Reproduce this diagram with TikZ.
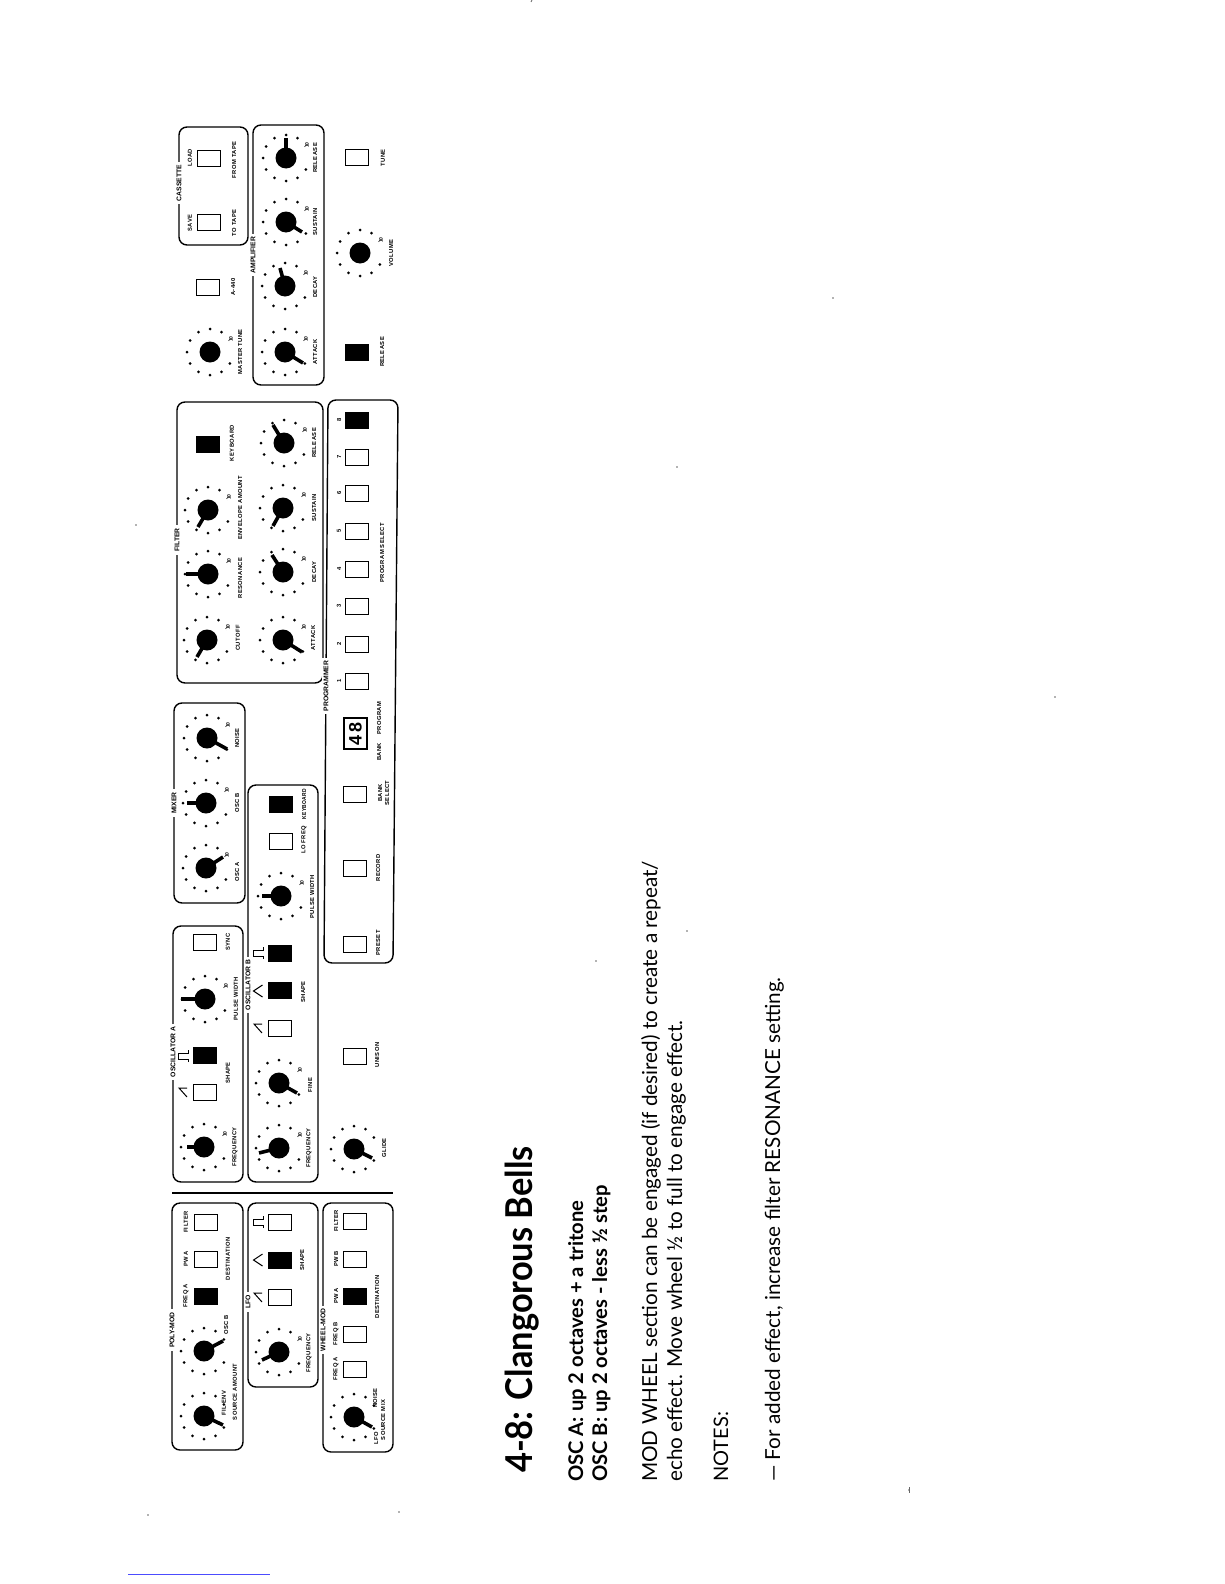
\documentclass[tikz,border=0pt]{standalone}
\usepackage{fontspec}
\setmainfont{Lato}
\newfontfamily\labelfont{Liberation Sans}[LetterSpace=7]
\newfontfamily\titlefont{Liberation Sans}
\newcount\nid \nid=0
\tikzset{
 panel/.style={draw=black,line width=1.4pt,rounded corners=8pt},
 tinylabel/.style={rotate=90,inner sep=0pt,font=\labelfont\bfseries\fontsize{5.8}{6}\selectfont},
 tenlabel/.style={rotate=90,fill=white,inner sep=0.4pt,font=\titlefont\bfseries\fontsize{5}{5}\selectfont},
 titlelabel/.style={rotate=90,fill=white,inner xsep=3pt,inner ysep=2pt,font=\titlefont\bfseries\fontsize{6.8}{7}\selectfont},
 knobbody/.style={circle,fill=black,inner sep=0pt,minimum size=21pt},
 ptr/.style={line width=3.6pt,line cap=butt},
 swoff/.style={draw=black,fill=white,line width=1pt,inner sep=0pt,minimum width=22.5pt,minimum height=16pt},
 swon/.style={draw=black,fill=black,line width=1pt,inner sep=0pt,minimum width=22.5pt,minimum height=16pt},
 wavesym/.style={line width=1pt,line join=miter},
 bodytext/.style={rotate=90,anchor=base west,inner sep=0pt},
}
\newcommand\lab[3]{\global\advance\nid by 1 \node[tinylabel] (n\the\nid) at (#1,#2) {#3};}
\newcommand\ten[2]{\global\advance\nid by 1 \node[tenlabel] (n\the\nid) at (#1+21,#2-13) {10};}
\newcommand\ttl[3]{\global\advance\nid by 1 \node[titlelabel] (n\the\nid) at (#1,#2) {#3};}
\newcommand\swo[2]{\global\advance\nid by 1 \node[swoff] (n\the\nid) at (#1,#2) {};}
\newcommand\swf[2]{\global\advance\nid by 1 \node[swon] (n\the\nid) at (#1,#2) {};}
\newcommand\dials[2]{\begin{scope}[shift={(#1,#2)}]
  \foreach \a in {30,60,...,330} \fill (\a:23) circle (1.5);
  \end{scope}}
% knob without the printed 10
\newcommand\knobn[4]{\dials{#1}{#2}\global\advance\nid by 1
  \node[knobbody] (n\the\nid) at (#1,#2) {};
  \coordinate (c\the\nid) at (#3,#4);
  \draw[ptr] (n\the\nid.center) -- (c\the\nid);}
% knob x y tipx tipy
\newcommand\knob[4]{\knobn{#1}{#2}{#3}{#4}\ten{#1}{#2}}
\newcommand\knobb[2]{\dials{#1}{#2}\global\advance\nid by 1
  \node[knobbody] (n\the\nid) at (#1,#2) {};\ten{#1}{#2}}
\newcommand\sawsym[2]{\draw[wavesym] (#1+4,#2+5) -- (#1-4,#2-4) -- (#1+4,#2-4);}
\newcommand\trisym[2]{\draw[wavesym] (#1+4.5,#2+6) -- (#1-4.5,#2) -- (#1+4.5,#2-6);}
\newcommand\pulsym[2]{\draw[wavesym] (#1+5,#2+6) -- (#1+5,#2+3) -- (#1-5,#2+3) -- (#1-5,#2-3) -- (#1+5,#2-3) -- (#1+5,#2-6);}
\begin{document}
\begin{tikzpicture}[x=1pt,y=-1pt]
\useasboundingbox (0,0) rectangle (1224,1584);
\fill[white] (0,0) rectangle (1224,1584);
% panels
\draw[panel] (172,1203) rectangle (243,1450);
\draw[panel] (248,1203) rectangle (318,1387);
\draw[panel] (323,1203) rectangle (393,1452);
\draw[line width=1.4pt] (172,1193) -- (393,1193);
\draw[panel] (173,926) rectangle (243,1182);
\draw[panel] (248,785) rectangle (318,1182);
\draw[panel] (328,400) -- (398,400) -- (393,963) -- (324,963) -- cycle;
\draw[panel] (174,703) rectangle (245,903);
\draw[panel] (177,402) rectangle (323,683);
\draw[panel] (179,127) rectangle (248,245);
\draw[panel] (253,125) rectangle (324,385);
% titles
\ttl{172}{1330}{POLY-MOD}
\ttl{248}{1302}{LFO}
\ttl{323}{1330}{WHEEL-MOD}
\ttl{173}{1052}{OSCILLATOR A}
\ttl{248}{985}{OSCILLATOR B}
\ttl{174}{803}{MIXER}
\ttl{177}{540}{FILTER}
\ttl{326}{686}{PROGRAMMER}
\ttl{179}{183}{CASSETTE}
\ttl{253}{255}{AMPLIFIER}
% poly-mod
\knobn{204}{1416}{223}{1425}
\knobn{204}{1351}{223}{1341}
\swo{206}{1222}\swo{206}{1259}\swf{206}{1296}
\lab{186}{1222}{FILTER}\lab{186}{1259}{PW A}\lab{186}{1296}{FREQ A}
\lab{228}{1259}{DESTINATION}
\lab{235}{1392}{SOURCE AMOUNT}
\lab{224}{1403}{FIL ENV}\lab{226}{1325}{OSC B}
% lfo
\knob{279}{1352}{262}{1360}
\swo{280}{1222}\swf{280}{1260}\swo{280}{1297}
\pulsym{258}{1222}\trisym{258}{1260}\sawsym{258}{1297}
\lab{302}{1260}{SHAPE}\lab{309}{1353}{FREQUENCY}
% wheel-mod
\knobn{354}{1417}{372}{1427}
\swo{355}{1221}\swo{355}{1259}\swf{355}{1296}\swo{355}{1334}\swo{355}{1369}
\lab{336}{1221}{FILTER}\lab{336}{1259}{PW B}\lab{336}{1296}{PW A}\lab{336}{1334}{FREQ B}\lab{336}{1369}{FREQ A}
\lab{377}{1297}{DESTINATION}
\lab{383}{1420}{SOURCE MIX}
\lab{375}{1398}{NOISE}\lab{376}{1438}{LFO}
% osc a
\knob{204}{1147}{187}{1147}
\knob{205}{999}{181}{999}
\swo{205}{942}\swf{205}{1055}\swo{205}{1092}
\pulsym{183}{1056}\sawsym{183}{1092}
\lab{235}{1147}{FREQUENCY}\lab{228}{1073}{SHAPE}\lab{236}{999}{PULSE WIDTH}\lab{228}{942}{SYNC}
% osc b
\knob{279}{1148}{259}{1153}
\knob{279}{1083}{297}{1093}
\knob{281}{896}{262}{896}
\swf{280}{953}\swf{280}{990}\swo{280}{1028}\swo{281}{841}\swf{281}{804}
\pulsym{258}{953}\trisym{258}{991}\sawsym{258}{1028}
\lab{309}{1148}{FREQUENCY}\lab{310}{1085}{FINE}\lab{303}{992}{SHAPE}\lab{312}{897}{PULSE WIDTH}
\lab{304}{840}{LO FREQ}\lab{304}{804}{\scalebox{0.85}[1]{KEYBOARD}}
% lower row
\knobn{354}{1149}{372}{1158}
\lab{384}{1148}{GLIDE}
\swo{355}{1056}\lab{377}{1055}{UNISON}
\swo{355}{944}\lab{378}{943}{PRESET}
\swo{355}{868}\lab{378}{868}{RECORD}
\swo{355}{794}\lab{380}{793}{BANK}\lab{387}{793}{SELECT}
\global\advance\nid by 1
\node[draw=black,line width=1.2pt,inner sep=0pt,minimum width=23pt,minimum height=31pt] (n\the\nid) at (355.5,733.5) {};
\global\advance\nid by 1
\node[rotate=90,inner sep=0pt,font=\titlefont\bfseries\fontsize{18}{18}\selectfont] (n\the\nid) at (355.5,734) {4\,8};
\lab{379}{752}{BANK}\lab{379}{718}{PROGRAM}
\swo{357}{681}\swo{357}{644}\swo{357}{606}\swo{357}{569}\swo{357}{531}\swo{357}{493}\swo{357}{457}\swf{357}{420}
\lab{339}{681}{1}\lab{339}{644}{2}\lab{339}{606}{3}\lab{339}{569}{4}\lab{339}{531}{5}\lab{339}{493}{6}\lab{339}{457}{7}\lab{339}{420}{8}
\lab{382}{553}{PROGRAM SELECT}
% mixer
\knob{207}{738}{227}{749}
\knob{206}{803}{187}{803}
\knob{206}{868}{223}{857}
\lab{237}{738}{NOISE}\lab{237}{803}{OSC B}\lab{237}{872}{OSC A}
% filter
\knob{208}{510}{198}{527}
\knob{208}{574}{186}{574}
\knob{207}{640}{197}{657}
\knob{284}{443}{273}{425}
\knob{283}{508}{273}{526}
\knob{283}{572}{272}{555}
\knob{283}{640}{302}{652}
\swf{208}{444}
\lab{232}{443}{KEYBOARD}\lab{240}{508}{ENVELOPE AMOUNT}\lab{240}{578}{RESONANCE}\lab{238}{638}{CUTOFF}
\lab{314}{443}{RELEASE}\lab{314}{508}{SUSTAIN}\lab{314}{572}{DECAY}\lab{313}{638}{ATTACK}
% cassette etc
\swo{209}{158}\swo{209}{222}
\lab{190}{158}{LOAD}\lab{190}{223}{SAVE}\lab{234}{160}{FROM TAPE}\lab{234}{223}{TO TAPE}
\swo{208}{287}\lab{233}{287}{A-440}
\knobb{210}{352}\lab{240}{352}{MASTER TUNE}
% amplifier
\knob{286}{158}{286}{138}
\knob{286}{222}{302}{232}
\knob{285}{286}{280}{268}
\knob{285}{352}{303}{363}
\lab{315}{158}{RELEASE}\lab{315}{222}{SUSTAIN}\lab{315}{287}{DECAY}\lab{315}{352}{ATTACK}
\swo{357}{157}\lab{383}{158}{TUNE}
\knobb{360}{253}\lab{391}{253}{VOLUME}
\swf{357}{352}\lab{382}{352}{RELEASE}
% text
\node[bodytext,font=\bfseries\fontsize{37}{37}\selectfont] (title) at (532,1473) {\scalebox{0.93}[1]{4-8:\hspace{12pt}Clangorous Bells}};
\node[bodytext,font=\bfseries\fontsize{20.2}{20}\selectfont] (oa) at (583,1482) {OSC A: up 2 octaves + a tritone};
\node[bodytext,font=\bfseries\fontsize{20.2}{20}\selectfont] (ob) at (607,1482) {OSC B: up 2 octaves - less ½ step};
\node[bodytext,font=\fontsize{20.7}{20}\selectfont] (mw) at (657,1482) {MOD WHEEL section can be engaged (if desired) to create a repeat/};
\node[bodytext,font=\fontsize{20.7}{20}\selectfont] (ec) at (682,1482) {echo effect. Move wheel ½ to full to engage effect.};
\node[bodytext,font=\fontsize{20}{20}\selectfont] (no) at (728,1482) {NOTES:};
\node[bodytext,font=\fontsize{20.7}{20}\selectfont] (fa) at (780,1482) {— For added effect, increase filter RESONANCE setting.};
% scan marks
\draw[blue!70!white,line width=0.8pt] (128,1574) -- (270,1574);
\foreach \p in {(1055,697),(833,298),(677,467),(136,525),(399,1512),(909,1490),(596,961),(687,931),(148,1515)}
  \fill[black!60] \p circle (0.8);
\draw[black!60,line width=0.8pt] (909,1487) -- (909,1493);
\draw[black!60,line width=0.8pt] (532,0) -- (531,2);
\end{tikzpicture}
\end{document}
